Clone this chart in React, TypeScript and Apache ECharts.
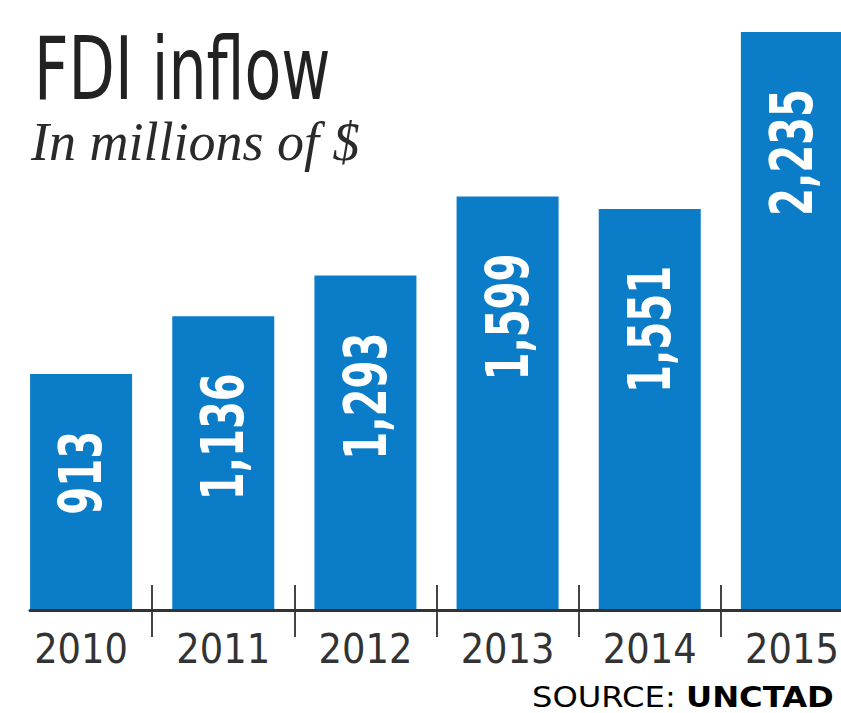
import React, { useEffect, useRef } from "react";
import * as echarts from "echarts";

const years = ["2010", "2011", "2012", "2013", "2014", "2015"];
const fdiValues = [913, 1136, 1293, 1599, 1551, 2235];
const titleText = "FDI inflow";
const subtitleText = "In millions of $";
const sourceLabel = "SOURCE: ";
const sourceName = "UNCTAD";

const NARROW = "'Liberation Sans Narrow', 'DejaVu Sans Condensed', sans-serif";

export default function App() {
  const ref = useRef<HTMLDivElement>(null);
  useEffect(() => {
    if (!ref.current) return;
    const chart = echarts.init(ref.current, undefined, { renderer: "svg" });
    const skipFirst = (i: number) => i > 0;
    chart.setOption({
      animation: false,
      backgroundColor: "#ffffff",
      title: [
        {
          text: subtitleText,
          left: 31,
          top: 115,
          padding: 0,
          textStyle: {
            fontFamily: "'Liberation Serif', 'DejaVu Serif', serif",
            fontStyle: "italic",
            fontSize: 54,
            fontWeight: "normal",
            color: "#2a2a2a",
          },
        },
      ],
      grid: [
        { left: 10, right: -22, top: 32, bottom: 103, outerBoundsMode: "none" },
        { left: 30, right: -22, top: 32, bottom: 103, outerBoundsMode: "none" },
      ],
      xAxis: [
        {
          type: "category",
          gridIndex: 0,
          data: years,
          position: "bottom",
          axisLine: { show: false },
          axisTick: { show: true, length: 27, interval: skipFirst, lineStyle: { color: "#444444", width: 2 } },
          axisLabel: { interval: 0, fontFamily: NARROW, fontSize: 41, color: "#333333", margin: 18 },
        },
        {
          type: "category",
          gridIndex: 0,
          data: years,
          position: "bottom",
          axisLine: { show: false },
          axisTick: { show: true, inside: true, length: 25, interval: skipFirst, lineStyle: { color: "#444444", width: 2 } },
          axisLabel: { show: false },
        },
        {
          type: "value",
          gridIndex: 1,
          min: 0,
          max: 1,
          position: "bottom",
          z: 5,
          axisLine: { show: true, lineStyle: { color: "#333333", width: 3 } },
          axisTick: { show: false },
          axisLabel: { show: false },
          splitLine: { show: false },
        },
      ],
      yAxis: [
        { type: "value", gridIndex: 0, min: 0, max: "dataMax", show: false },
        { type: "value", gridIndex: 1, min: 0, max: 1, show: false },
      ],
      graphic: [
        {
          type: "text",
          left: 34,
          top: 24,
          scaleX: 0.76,
          style: {
            text: titleText,
            fontFamily: NARROW,
            fontSize: 88,
            lineHeight: 80,
            fill: "#222222",
          },
        },
        {
          type: "text",
          left: 532,
          top: 683,
          scaleX: 1.15,
          style: {
            text: `{a|${sourceLabel}}{b|${sourceName}}`,
            rich: {
              a: { fontFamily: "'DejaVu Sans', sans-serif", fontSize: 28, color: "#444444" },
              b: { fontFamily: "'DejaVu Sans', sans-serif", fontSize: 28, fontWeight: "bold", color: "#222222" },
            },
          },
        },
      ],
      series: [
        {
          type: "bar",
          xAxisIndex: 0,
          yAxisIndex: 0,
          data: fdiValues,
          barWidth: 102,
          itemStyle: { color: "#0b7dc8" },
        },
        {
          type: "custom",
          xAxisIndex: 0,
          yAxisIndex: 0,
          z: 10,
          data: fdiValues.map((v, i) => [years[i], v]),
          encode: { x: 0, y: 1 },
          renderItem: (params: any, api: any) => {
            const pt = api.coord([api.value(0), api.value(1)]);
            return {
              type: "text",
              x: pt[0],
              y: pt[1] + 57,
              rotation: Math.PI / 2,
              scaleX: 0.77,
              style: {
                text: fdiValues[params.dataIndex].toLocaleString("en-US"),
                fontFamily: NARROW,
                fontSize: 58,
                fontWeight: "bold",
                fill: "#ffffff",
                align: "right",
                verticalAlign: "middle",
              },
            };
          },
        },
      ],
    });
    return () => chart.dispose();
  }, []);
  return (
    <div
      ref={ref}
      style={{ position: "fixed", left: 0, top: 0, width: 841, height: 713, overflow: "hidden" }}
    />
  );
}
